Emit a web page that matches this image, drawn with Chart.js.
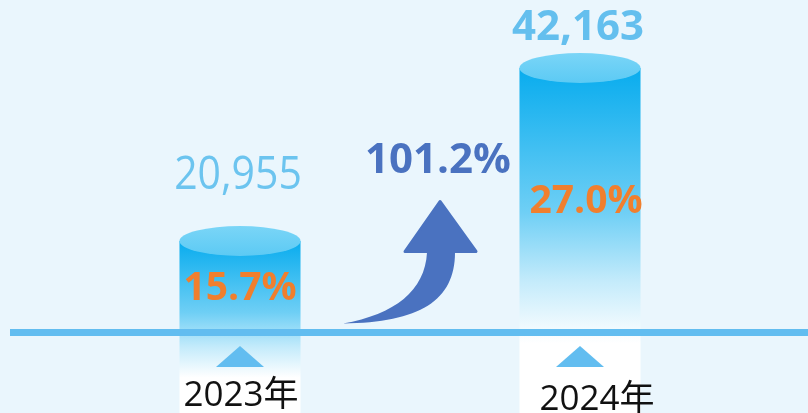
<!DOCTYPE html>
<html><head><meta charset="utf-8">
<script src="https://cdn.jsdelivr.net/npm/chart.js@4/dist/chart.umd.min.js"></script>
<style>html,body{margin:0;padding:0;background:#eaf6fd;}#wrap{width:808px;height:413px;}</style>
</head><body><div id="wrap"><canvas id="c" width="808" height="413"></canvas></div>
<script>
const categories = ['2023年', '2024年'];
const values = [20955, 42163];
const valueLabels = ['20,955', '42,163'];
const shareLabels = ['15.7%', '27.0%'];
const growthLabel = '101.2%';

const FONT = '"Open Sans", "Noto Sans CJK SC", sans-serif';
const NUMFONT = '"Open Sans", "Noto Sans", sans-serif';

function textScaled(ctx, text, x, y, sx) {
  ctx.save();
  ctx.translate(x, y);
  ctx.scale(sx, 1);
  ctx.fillText(text, 0, 0);
  ctx.restore();
}

const cylinderPlugin = {
  id: 'cyl',
  afterDatasetsDraw(chart) {
    const ctx = chart.ctx;
    const meta = chart.getDatasetMeta(0);
    const area = chart.chartArea;
    const baseY = area.bottom - 30.5;
    const ry = 15;
    ctx.save();
    meta.data.forEach((el, i) => {
      const x = el.x, top = el.y, bot = el.base, rx = el.width / 2;
      const g = ctx.createLinearGradient(0, top, 0, bot);
      g.addColorStop(0, '#08acee');
      g.addColorStop(0.42, '#6fcff5');
      g.addColorStop(0.62, '#c4ebfb');
      g.addColorStop(0.8, '#ffffff');
      g.addColorStop(1, '#ffffff');
      ctx.beginPath();
      ctx.moveTo(x - rx, top);
      ctx.lineTo(x - rx, bot);
      ctx.ellipse(x, bot, rx, ry, 0, Math.PI, 0, true);
      ctx.lineTo(x + rx, top);
      ctx.closePath();
      ctx.fillStyle = g;
      ctx.fill();
      const tg = ctx.createLinearGradient(0, top - ry, 0, top + ry);
      tg.addColorStop(0, '#7ad5f7');
      tg.addColorStop(1, '#5ccaf4');
      ctx.beginPath();
      ctx.ellipse(x, top, rx, ry, 0, 0, Math.PI * 2);
      ctx.fillStyle = tg;
      ctx.fill();
    });
    ctx.fillStyle = '#62bdf0';
    ctx.fillRect(10, baseY - 3.5, chart.width - 10, 7);
    meta.data.forEach((el, i) => {
      const x = el.x, top = el.y;
      ctx.beginPath();
      ctx.moveTo(x, baseY + 13.5);
      ctx.lineTo(x - 24, baseY + 34.5);
      ctx.lineTo(x + 24, baseY + 34.5);
      ctx.closePath();
      ctx.fillStyle = '#62bdf0';
      ctx.fill();
      ctx.textAlign = 'center';
      ctx.textBaseline = 'middle';
      if (i === 0) {
        ctx.font = '45px ' + NUMFONT;
        ctx.fillStyle = '#6cc4ef';
        textScaled(ctx, valueLabels[i], x - 2, top - 65, 0.91);
      } else {
        ctx.font = 'bold 42px ' + NUMFONT;
        ctx.fillStyle = '#64bfee';
        textScaled(ctx, valueLabels[i], x - 2, top - 40, 1);
      }
      ctx.font = 'bold 39px ' + NUMFONT;
      ctx.fillStyle = '#f07f2e';
      textScaled(ctx, shareLabels[i], x + (i === 0 ? 0 : 6), (top + baseY) / 2 + 2, 1);
      ctx.font = '35px ' + FONT;
      ctx.fillStyle = '#111111';
      textScaled(ctx, categories[i], x + (i === 0 ? 1 : 17), area.bottom + (i === 0 ? 33 : 37), 1);
    });
    const m = (meta.data[0].x + meta.data[1].x) / 2;
    const P = (dx, dy) => [m + dx, baseY + dy];
    ctx.fillStyle = '#4a72c0';
    ctx.strokeStyle = '#4a72c0';
    ctx.lineJoin = 'round';
    ctx.lineWidth = 3;
    ctx.beginPath();
    let p;
    p = P(-67, -9); ctx.moveTo(p[0], p[1]);
    let c1 = P(-15, -18), c2 = P(15, -42); p = P(17, -80);
    ctx.bezierCurveTo(c1[0], c1[1], c2[0], c2[1], p[0], p[1]);
    p = P(-5, -81); ctx.lineTo(p[0], p[1]);
    p = P(30, -131); ctx.lineTo(p[0], p[1]);
    p = P(66, -81); ctx.lineTo(p[0], p[1]);
    p = P(45, -80); ctx.lineTo(p[0], p[1]);
    c1 = P(45, -32); c2 = P(10, -10); p = P(-67, -9);
    ctx.bezierCurveTo(c1[0], c1[1], c2[0], c2[1], p[0], p[1]);
    ctx.closePath();
    ctx.fill();
    ctx.beginPath();
    p = P(-5, -81); ctx.moveTo(p[0], p[1]);
    p = P(30, -131); ctx.lineTo(p[0], p[1]);
    p = P(66, -81); ctx.lineTo(p[0], p[1]);
    ctx.closePath();
    ctx.stroke();
    ctx.font = 'bold 42px ' + NUMFONT;
    ctx.textAlign = 'center';
    ctx.textBaseline = 'middle';
    textScaled(ctx, growthLabel, m + 28, baseY - 171, 1);
    ctx.restore();
  }
};

new Chart(document.getElementById('c'), {
  type: 'bar',
  data: {
    labels: categories,
    datasets: [{ data: values, backgroundColor: 'rgba(0,0,0,0)', borderWidth: 0, categoryPercentage: 1, barPercentage: 0.356 }]
  },
  options: {
    responsive: false,
    animation: false,
    layout: { padding: { left: 70, right: 58, top: 0, bottom: 50 } },
    plugins: { legend: { display: false }, tooltip: { enabled: false } },
    scales: {
      x: { display: false },
      y: { display: false, min: 6000, max: 50500 }
    }
  },
  plugins: [cylinderPlugin]
});
</script>
</body></html>
